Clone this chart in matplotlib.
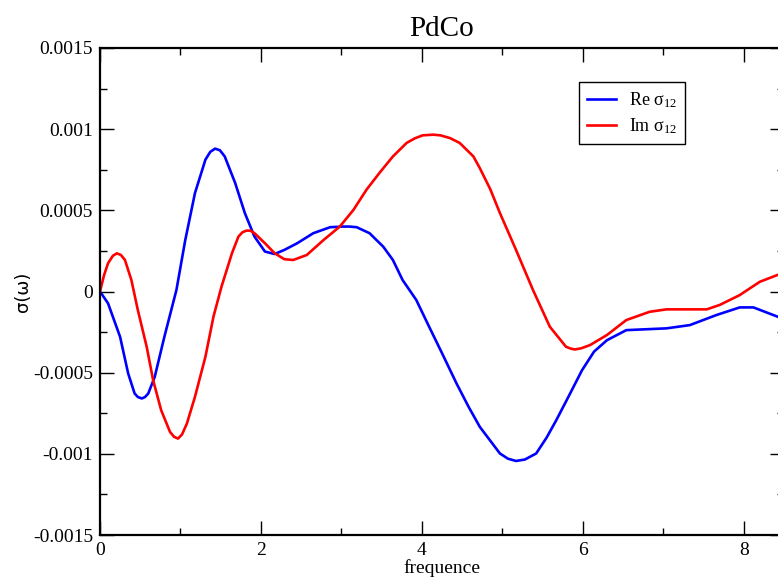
import numpy as np
import matplotlib
matplotlib.use('Agg')
import matplotlib.pyplot as plt
from matplotlib.ticker import MultipleLocator, FuncFormatter

plt.rcParams['font.family'] = 'Liberation Serif'
plt.rcParams['mathtext.fontset'] = 'custom'
plt.rcParams['mathtext.rm'] = 'Liberation Serif'
plt.rcParams['mathtext.default'] = 'regular'

# Re sigma_12 (conductivity, real part)
x_re = [0, 0.10, 0.25, 0.35, 0.43, 0.47, 0.52, 0.56, 0.60, 0.68, 0.80, 0.95, 1.06, 1.18,
        1.31, 1.37, 1.43, 1.49, 1.55, 1.68, 1.80, 1.92, 2.05, 2.17, 2.29, 2.45, 2.65, 2.86,
        3.02, 3.10, 3.19, 3.35, 3.52, 3.64, 3.76, 3.93, 4.09, 4.26, 4.43, 4.58, 4.72, 4.97,
        5.07, 5.17, 5.28, 5.42, 5.55, 5.67, 5.83, 5.99, 6.14, 6.30, 6.54, 7.04, 7.33, 7.66,
        7.95, 8.12, 8.42, 8.5]
y_re = [0, -0.73, -2.8, -5.05, -6.28, -6.5, -6.59, -6.5, -6.28, -5.26, -2.79, 0.1, 3.18,
        6.06, 8.12, 8.6, 8.8, 8.7, 8.32, 6.68, 4.83, 3.38, 2.46, 2.31, 2.56, 2.97, 3.59,
        3.96, 4.0, 4.0, 3.96, 3.59, 2.76, 1.94, 0.71, -0.52, -2.17, -3.9, -5.66, -7.1,
        -8.34, -9.98, -10.3, -10.44, -10.35, -9.98, -9.0, -7.93, -6.4, -4.85, -3.7, -3.0,
        -2.38, -2.27, -2.07, -1.45, -0.98, -0.98, -1.55, -1.7]

# Im sigma_12
x_im = [0, 0.05, 0.10, 0.16, 0.21, 0.26, 0.31, 0.39, 0.47, 0.58, 0.66, 0.76, 0.87, 0.92,
        0.97, 1.02, 1.08, 1.18, 1.31, 1.41, 1.51, 1.64, 1.72, 1.77, 1.82, 1.87, 1.92, 2.05,
        2.17, 2.29, 2.40, 2.57, 2.78, 2.98, 3.15, 3.31, 3.48, 3.64, 3.81, 3.91, 4.01, 4.14,
        4.23, 4.35, 4.47, 4.64, 4.72, 4.85, 4.97, 5.17, 5.38, 5.59, 5.79, 5.85, 5.90, 5.98,
        6.09, 6.30, 6.54, 6.83, 7.04, 7.54, 7.70, 7.95, 8.20, 8.42, 8.5]
y_im = [0, 1.0, 1.74, 2.2, 2.35, 2.25, 1.94, 0.71, -1.14, -3.4, -5.46, -7.31, -8.65,
        -8.95, -9.06, -8.8, -8.13, -6.49, -4.02, -1.55, 0.3, 2.36, 3.38, 3.65, 3.75, 3.75,
        3.59, 2.97, 2.36, 1.99, 1.94, 2.25, 3.18, 4.0, 5.03, 6.26, 7.35, 8.32, 9.15, 9.43,
        9.62, 9.66, 9.62, 9.45, 9.15, 8.32, 7.6, 6.3, 4.83, 2.56, 0.1, -2.17, -3.4, -3.52,
        -3.57, -3.5, -3.3, -2.68, -1.76, -1.25, -1.1, -1.1, -0.83, -0.22, 0.6, 1.02, 1.15]

y_re = np.array(y_re) * 1e-4
y_im = np.array(y_im) * 1e-4

fig = plt.figure(figsize=(7.78, 5.86), dpi=100)
ax = fig.add_axes([100/778, 51/586, 684/778, 487/586])

ax.plot(x_re, y_re, color=(0, 0, 1), lw=1.9, label=r'Re σ$_{12}$')
ax.plot(x_im, y_im, color=(1, 0, 0), lw=1.9, label=r'Im σ$_{12}$')

ax.set_xlim(0, 8.5)
ax.set_ylim(-0.0015, 0.0015)
ax.xaxis.set_major_locator(MultipleLocator(2))
ax.xaxis.set_minor_locator(MultipleLocator(1))
ax.yaxis.set_major_locator(MultipleLocator(0.0005))
ax.yaxis.set_minor_locator(MultipleLocator(0.00025))
ax.yaxis.set_major_formatter(FuncFormatter(lambda v, p: '%g' % round(v, 6)))
ax.xaxis.set_major_formatter(FuncFormatter(lambda v, p: '%g' % v))

ax.tick_params(which='both', direction='in', top=True, right=True, labelsize=14, pad=5)
ax.tick_params(which='major', length=10, width=1)
ax.tick_params(which='minor', length=5, width=1)
for s in ax.spines.values():
    s.set_linewidth(1.6)

ax.set_title('PdCo', fontsize=21, pad=9)
ax.set_xlabel('frequence', fontsize=14, labelpad=0)
ax.set_ylabel('σ(ω)', fontsize=13, family='DejaVu Sans', labelpad=1)

leg = ax.legend(loc='upper left', bbox_to_anchor=(579/778, 1 - 82/586),
                bbox_transform=fig.transFigure, borderaxespad=0, fontsize=13,
                fancybox=False, framealpha=1, edgecolor='black', handlelength=1.6,
                handletextpad=0.7, borderpad=0.45, labelspacing=0.35)
leg.get_frame().set_linewidth(1.0)

fig.savefig('out.png', dpi=100)
